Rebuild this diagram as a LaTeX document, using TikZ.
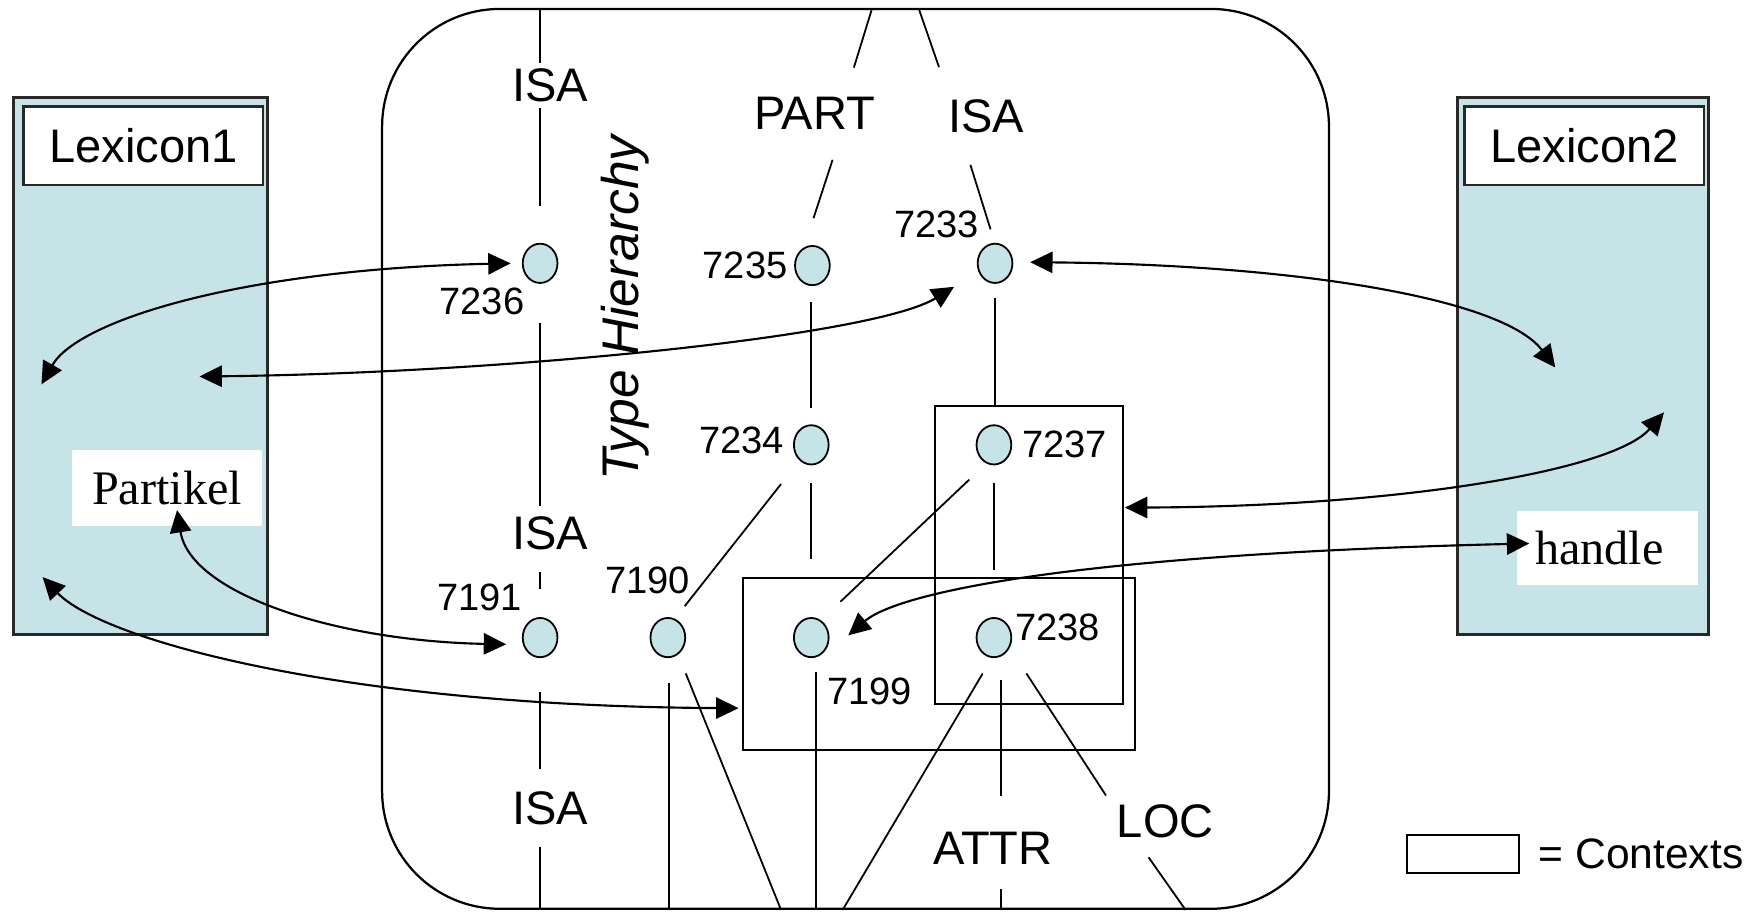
\documentclass[tikz,border=0pt]{standalone}
\usepackage{fontspec}
\newfontfamily\lsans{Liberation Sans}
\newfontfamily\lserif{Liberation Serif}
\usetikzlibrary{arrows.meta,calc,shapes.geometric}
\definecolor{lexblue}{RGB}{198,228,231}
\definecolor{lexedge}{RGB}{40,40,40}
\begin{document}
\begin{tikzpicture}[x=1pt,y=-1pt,
  dot/.style={ellipse, draw, line width=1.6pt, fill=lexblue, minimum width=31pt, minimum height=35pt, inner sep=0pt},
  num/.style={font=\lsans\fontsize{34}{40}\selectfont, inner sep=0pt},
  rel/.style={font=\lsans\fontsize{42}{48}\selectfont, inner sep=0pt},
  ln/.style={line width=1.6pt},
  ctx/.style={draw, line width=1.8pt, inner sep=0pt},
  lexbox/.style={draw=lexedge, line width=2.5pt, fill=lexblue, inner sep=0pt},
  lextitle/.style={draw=lexedge, line width=2pt, fill=white, inner sep=0pt, font=\lsans\fontsize{42}{48}\selectfont},
  wbox/.style={fill=white, inner sep=0pt, font=\lserif\fontsize{43}{48}\selectfont},
  arr/.style={line width=1.9pt, {Triangle[length=20pt,width=19pt]}-{Triangle[length=20pt,width=19pt]}}
]
\useasboundingbox (0,0) rectangle (1568,814);

% Lexicon boxes
\node[lexbox, minimum width=227pt, minimum height=479pt] (lex1) at (125.5,326.5) {};
\node[lextitle, minimum width=214pt, minimum height=70pt] (lex1t) at (128,130) {Lexicon1};
\node[wbox, minimum width=170pt, minimum height=67pt] (pk) at (149,435.5) {Partikel};
\node[lexbox, minimum width=224pt, minimum height=479pt] (lex2) at (1413,326.5) {};
\node[lextitle, minimum width=214pt, minimum height=70pt] (lex2t) at (1414,130) {Lexicon2};
\node[wbox, minimum height=66pt, text width=129pt, align=left, inner xsep=16pt] (hb) at (1434.5,489) {handle};

% Type hierarchy frame
\node[draw, line width=2pt, rounded corners=105pt, minimum width=845pt, minimum height=803pt, inner sep=0pt] (th) at (763.5,409.5) {};
\node[font=\lsans\itshape\fontsize{46}{50}\selectfont, rotate=90, inner sep=0pt] (thl) at (558,275) {Type Hierarchy};

% contexts
\node[ctx, minimum width=350pt, minimum height=153pt] (ctxA) at (838,592.5) {};
\node[ctx, minimum width=168pt, minimum height=266pt] (ctxB) at (918,495) {};

% concept nodes
\node[dot] (n7236) at (482,235) {};
\node[dot] (n7235) at (725,237) {};
\node[dot] (n7233) at (888,235) {};
\node[dot] (n7234) at (724,397) {};
\node[dot] (n7237) at (887,397) {};
\node[dot] (n7191) at (482,569) {};
\node[dot] (n7190) at (596,569) {};
\node[dot] (n7199) at (724,569) {};
\node[dot] (n7238) at (887,569) {};

% number labels
\node[num] (l7236) at (430,269) {7236};
\node[num] (l7235) at (665,237) {7235};
\node[num] (l7233) at (836,200) {7233};
\node[num] (l7234) at (662,393) {7234};
\node[num] (l7237) at (950,397) {7237};
\node[num] (l7191) at (428,533) {7191};
\node[num] (l7190) at (578,518) {7190};
\node[num] (l7199) at (776,617) {7199};
\node[num] (l7238) at (944,560) {7238};

% relation labels
\node[rel] (isa1) at (491,76) {ISA};
\node[rel] (part) at (727,101) {PART};
\node[rel] (isa2) at (880,104) {ISA};
\node[rel] (isa3) at (491,476) {ISA};
\node[rel] (isa4) at (491,721) {ISA};
\node[rel] (attr) at (886,757) {ATTR};
\node[rel] (loc) at (1040,733) {LOC};

% relation lines
\draw[ln] (n7236 |- th.north) -- ($(n7236 |- isa1.north)+(0,-5)$);
\draw[ln] ($(n7236 |- isa1.south)+(0,5)$) -- ($(n7236.north)+(0,-33)$);
\draw[ln] ($(n7236.south)+(0,35)$) -- ($(n7236 |- isa3.north)+(0,-9)$);
\draw[ln] ($(n7191 |- isa3.south)+(0,19)$) -- ($(n7191.north)+(0,-25)$);
\draw[ln] ($(n7191.south)+(0,30)$) -- ($(n7191 |- isa4.north)+(0,-20)$);
\draw[ln] ($(n7191 |- isa4.south)+(0,20)$) -- (n7191 |- th.south);
\draw[ln] ($(part.north)+(51,-78)$) -- ($(part.north)+(35,-26)$);
\draw[ln] ($(part.south)+(16,27)$) -- ($(n7235.north)+(1,-24)$);
\draw[ln] ($(isa2.north)+(-60,-81)$) -- ($(isa2.north)+(-42,-29)$);
\draw[ln] ($(isa2.south)+(-14,28)$) -- ($(n7233.north)+(-4,-12)$);
\draw[ln] ($(n7235.south)+(-1,14)$) -- ($(n7234.north)+(0,-15)$);
\draw[ln] ($(n7233.south)+(0,13)$) -- (n7233 |- ctxB.north);
\draw[ln] ($(n7234.south)+(0,16)$) -- ($(n7199.north)+(0,-52)$);
\draw[ln] ($(n7234)+(-27,35)$) -- ($(n7190)+(15,-28)$);
\draw[ln] ($(n7237)+(-22,31)$) -- ($(n7199)+(26,-32)$);
\draw[ln] ($(n7237.south)+(0,16)$) -- ($(n7238.north)+(0,-42)$);
\draw[ln] ($(n7190.south)+(1,22)$) -- ($(n7190 |- th.south)+(1,0)$);
\draw[ln] ($(n7190)+(16,32)$) -- ($(th.south)+(-66.5,0)$);
\draw[ln] ($(n7199)+(4,31)$) -- ($(n7199 |- th.south)+(4,0)$);
\draw[ln] ($(n7238)+(-10,32)$) -- ($(th.south)+(-11.5,0)$);
\draw[ln] ($(n7238)+(6,38)$) -- ($(attr.north)+(7,-32)$);
\draw[ln] ($(attr.south)+(7,22)$) -- ($(attr |- th.south)+(7,0)$);
\draw[ln] ($(n7238)+(29,32)$) -- ($(loc.north)+(-53,-8)$);
\draw[ln] ($(loc.south)+(-15,17)$) -- ($(loc |- th.south)+(18,0)$);

% free arrow ends
\coordinate (L1a) at (37,343);
\coordinate (L1b) at (178,336);
\coordinate (L1c) at (38,515);
\coordinate (L2a) at (1388,328);
\coordinate (L2b) at (1485,368);

% arrows
\draw[arr] (L1a) .. controls (70,285) and (220,240) .. ($(n7236.west)+(-10,0)$);
\draw[arr] (L1b) .. controls (450,333) and (780,300) .. ($(n7233.south west)+(-25,8)$);
\draw[arr] ($(n7233.east)+(15,-1)$) .. controls (1150,236) and (1340,265) .. (L2a);
\draw[arr] ($(ctxB.east)+(1,-42)$) .. controls (1250,452) and (1440,420) .. (L2b);
\draw[arr] ($(n7199)+(33,-2)$) .. controls (800,530) and (950,495) .. ($(hb.west)+(11,-4)$);
\draw[arr] ($(pk.south)+(9,-14)$) .. controls (170,530) and (300,572) .. ($(n7191.west)+(-14,6)$);
\draw[arr] (L1c) .. controls (90,570) and (300,630) .. ($(ctxA.west)+(-3,39.5)$);

% legend
\node[ctx, minimum width=100pt, minimum height=34pt] (leg) at (1306,762) {};
\node[anchor=west, inner sep=0pt, font=\lsans\fontsize{38}{44}\selectfont] (legt) at ($(leg.east)+(16,0)$) {= Contexts};
\end{tikzpicture}
\end{document}
